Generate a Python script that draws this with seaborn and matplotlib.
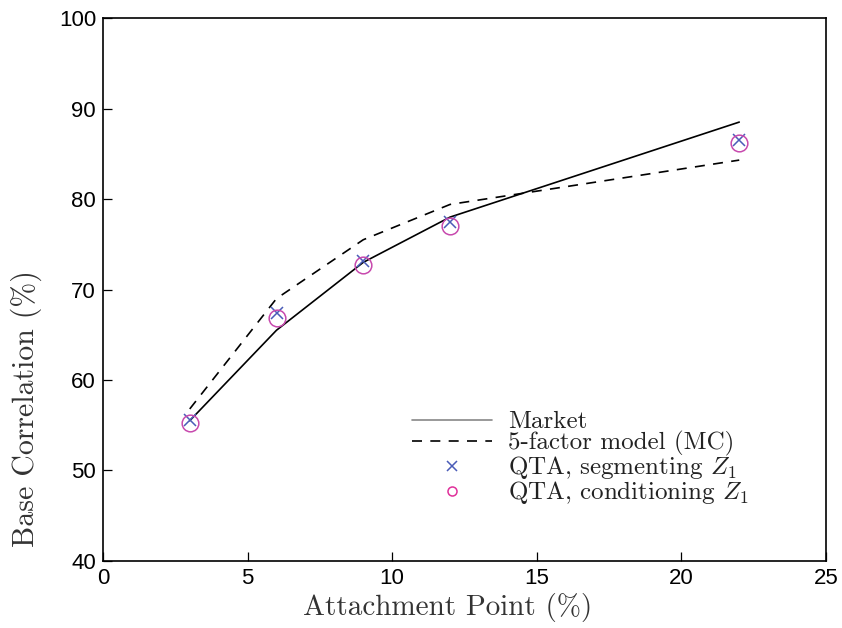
import matplotlib
matplotlib.use("Agg")
import matplotlib.pyplot as plt
import seaborn as sns
import pandas as pd

# Data
attach = [3, 6, 9, 12, 22]
market = [55.5, 65.5, 73.0, 78.0, 88.5]
five_factor = [56.8, 69.0, 75.5, 79.4, 84.3]
qta_segment = [55.6, 67.4, 73.2, 77.5, 86.5]
qta_condition = [55.2, 66.9, 72.7, 77.0, 86.2]

xticks = [0, 5, 10, 15, 20, 25]
yticks = [40, 50, 60, 70, 80, 90, 100]

sns.set_style("white")
plt.rcParams["mathtext.fontset"] = "cm"
plt.rcParams["axes.unicode_minus"] = False

df = pd.DataFrame({"x": attach, "market": market, "five": five_factor,
                   "seg": qta_segment, "cond": qta_condition})

fig = plt.figure(figsize=(8.42, 6.28), dpi=100)
ax = fig.add_axes([0.1223, 0.1067, 0.8587, 0.8646])

sns.lineplot(data=df, x="x", y="market", ax=ax, color="black", lw=1.2,
             label="Market")
sns.lineplot(data=df, x="x", y="five", ax=ax, color="black", lw=1.2,
             linestyle=(0, (6, 5)), label="5-factor model (MC)")
ax.plot(df["x"], df["seg"], linestyle="none", marker="x", ms=9, mew=1.1,
        color="#4a5cb8", label=r"QTA, segmenting $Z_1$")
ax.plot(df["x"], df["cond"], linestyle="none", marker="o", ms=12, mew=1.1,
        mfc="none", mec="#c84aae", label=r"QTA, conditioning $Z_1$")

ax.set_xlim(0, 25)
ax.set_ylim(40, 100)
ax.set_xticks(xticks)
ax.set_yticks(yticks)
ax.tick_params(direction="in", length=6.5, width=0.9, labelsize=16,
               bottom=True, left=True, top=False, right=False, pad=5,
               colors="black")
for lab in ax.get_xticklabels() + ax.get_yticklabels():
    lab.set_fontfamily("Liberation Sans")
for s in ax.spines.values():
    s.set_linewidth(1.2)
    s.set_color("black")

ax.set_xlabel("Attachment Point (%)", fontfamily="cmr10", fontsize=21,
              color="#333333", labelpad=3)
ax.xaxis.label.set_x(0.477)
ax.set_ylabel("Base Correlation (%)", fontfamily="cmr10", fontsize=21.5,
              color="#333333", labelpad=12)
ax.yaxis.label.set_y(0.28)

leg = ax.legend(loc="lower left", bbox_to_anchor=(0.413, 0.082), frameon=False,
                prop={"family": "cmr10", "size": 18}, handlelength=3.2,
                handletextpad=0.65, labelspacing=-0.08, borderaxespad=0)
hs = leg.legend_handles
hs[0].set_color("#888888")
hs[2].set_markersize(7)
hs[3].set_markersize(6.5)
hs[3].set_markeredgecolor("#e0309a")
for t in leg.get_texts():
    t.set_color("#222222")

fig.savefig("out.png", dpi=100)
